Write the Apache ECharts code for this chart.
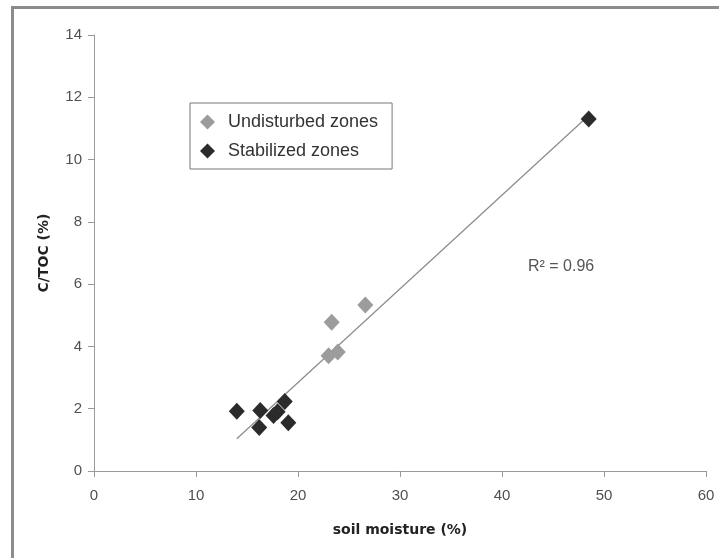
<!DOCTYPE html>
<html>
<head>
<meta charset="utf-8">
<script src="https://cdn.jsdelivr.net/npm/echarts@6/dist/echarts.min.js"></script>
<style>
  html, body { margin: 0; padding: 0; background: #fff; }
  #chart { width: 719px; height: 558px; }
</style>
</head>
<body>
<div id="chart"></div>
<script>
// 未扰动区 (soil moisture %, C/TOC %)
const undisturbedX = [23.3, 26.6, 23.0, 23.9]
const undisturbedY = [4.78, 5.33, 3.70, 3.82]

// 稳定区
const stabilizedX = [14.0, 16.3, 16.2, 17.6, 18.0, 18.7, 19.05, 48.5]
const stabilizedY = [1.92, 1.94, 1.40, 1.78, 1.90, 2.23, 1.55, 11.30]

const xTicks = [0, 10, 20, 30, 40, 50, 60]
const yTicks = [0, 2, 4, 6, 8, 10, 12, 14]
const r2Label = 'R² = 0.96'

const toPairs = (xs, ys) => xs.map((x, i) => [x, ys[i]])

// 线性趋势线 (最小二乘, 全部点)
const allX = undisturbedX.concat(stabilizedX)
const allY = undisturbedY.concat(stabilizedY)
const mx = allX.reduce((a, b) => a + b, 0) / allX.length
const my = allY.reduce((a, b) => a + b, 0) / allY.length
let sxy = 0, sxx = 0
allX.forEach((x, i) => {
  sxy += (x - mx) * (allY[i] - my)
  sxx += (x - mx) * (x - mx)
})
const slope = sxy / sxx
const intercept = my - slope * mx
const xMin = Math.min(...allX)
const xMax = Math.max(...allX)
const trend = [[xMin, intercept + slope * xMin], [xMax, intercept + slope * xMax]]

const chart = echarts.init(document.getElementById('chart'), null, { renderer: 'canvas' })

const axisColor = '#9a9a9a'
const labelStyle = { color: '#505050', fontSize: 15, fontFamily: 'Liberation Sans, Arial, sans-serif' }
const titleStyle = { color: '#222', fontSize: 14, fontWeight: 'bold', fontFamily: 'DejaVu Sans, sans-serif' }

const option = {
  backgroundColor: '#fff',
  animation: false,
  grid: { left: 94, right: 13, top: 35, bottom: 87, outerBoundsMode: 'none' },
  graphic: [
    {
      type: 'rect',
      left: 10, top: 5,
      shape: { width: 760, height: 600 },
      style: { fill: 'none', stroke: '#8c8c8c', lineWidth: 3 },
      silent: true
    },
    {
      type: 'text',
      left: 528, top: 259,
      style: { text: r2Label, fill: '#555', font: '16px Liberation Sans, Arial, sans-serif' }
    }
  ],
  legend: {
    orient: 'vertical',
    left: 190,
    top: 103,
    padding: [10, 14, 9, 10],
    itemWidth: 15,
    itemHeight: 15,
    itemGap: 11,
    borderColor: '#777',
    borderWidth: 1,
    icon: 'diamond',
    data: ['Undisturbed zones', 'Stabilized zones'],
    textStyle: {
      color: '#333',
      fontSize: 18,
      fontFamily: 'Liberation Sans, Arial, sans-serif',
      padding: [0, 0, 0, 8]
    }
  },
  xAxis: {
    type: 'value',
    min: xTicks[0],
    max: xTicks[xTicks.length - 1],
    interval: 10,
    name: 'soil moisture (%)',
    nameLocation: 'middle',
    nameGap: 52,
    nameTextStyle: titleStyle,
    axisLine: { show: true, lineStyle: { color: axisColor, width: 1 } },
    axisTick: { show: true, length: 6, lineStyle: { color: axisColor } },
    axisLabel: { ...labelStyle, margin: 17 },
    splitLine: { show: false }
  },
  yAxis: {
    type: 'value',
    min: yTicks[0],
    max: yTicks[yTicks.length - 1],
    interval: 2,
    name: 'C/TOC (%)',
    nameLocation: 'middle',
    nameGap: 43,
    nameTextStyle: titleStyle,
    axisLine: { show: true, lineStyle: { color: axisColor, width: 1 } },
    axisTick: { show: true, length: 6, lineStyle: { color: axisColor } },
    axisLabel: { ...labelStyle, margin: 12 },
    splitLine: { show: false }
  },
  series: [
    {
      name: 'trend',
      type: 'line',
      data: trend,
      showSymbol: false,
      silent: true,
      z: 1,
      lineStyle: { color: '#8a8a8a', width: 1.2 }
    },
    {
      name: 'Undisturbed zones',
      type: 'scatter',
      data: toPairs(undisturbedX, undisturbedY),
      symbol: 'diamond',
      symbolSize: [16, 17],
      z: 2,
      itemStyle: { color: '#9c9c9c', opacity: 1 }
    },
    {
      name: 'Stabilized zones',
      type: 'scatter',
      data: toPairs(stabilizedX, stabilizedY),
      symbol: 'diamond',
      symbolSize: [16, 17],
      z: 3,
      itemStyle: { color: '#2b2b2b', opacity: 1 }
    }
  ]
}

chart.setOption(option)
</script>
</body>
</html>
